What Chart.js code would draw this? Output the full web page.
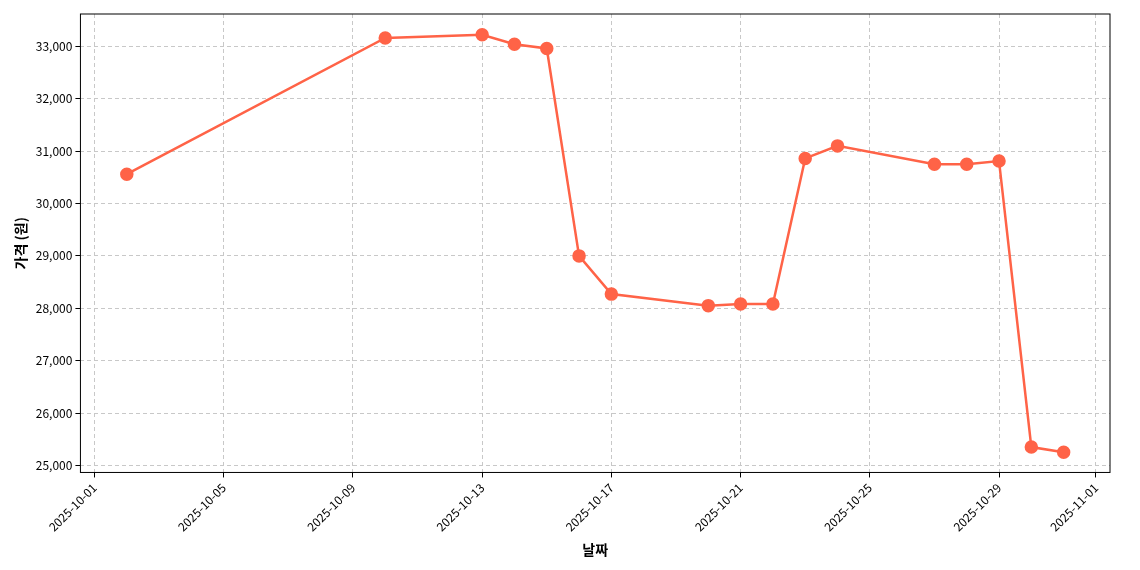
<!DOCTYPE html>
<html><head><meta charset="utf-8">
<script src="https://cdn.jsdelivr.net/npm/chart.js@4"></script>
<style>body{margin:0;background:#fff}#wrap{width:1140px;height:570px}</style>
</head><body><div id="wrap"><canvas id="c"></canvas></div>
<script>
// days since 2025-10-01
const days = [1, 9, 12, 13, 14, 15, 16, 19, 20, 21, 22, 23, 26, 27, 28, 29, 30];
const prices = [30560, 33160, 33220, 33040, 32960, 29000, 28270, 28050, 28080, 28080, 30860, 31100, 30750, 30750, 30810, 25350, 25250];
const tickDays = [0, 4, 8, 12, 16, 20, 24, 28, 31];
const tickLabels = ["2025-10-01", "2025-10-05", "2025-10-09", "2025-10-13", "2025-10-17", "2025-10-21", "2025-10-25", "2025-10-29", "2025-11-01"];

Chart.defaults.font.family = "'Noto Sans CJK KR', 'Noto Sans', sans-serif";
Chart.defaults.color = "#000";

const boxPlugin = {
  id: "box",
  afterDraw(chart) {
    const a = chart.chartArea, ctx = chart.ctx;
    ctx.save(); ctx.strokeStyle = "#000"; ctx.lineWidth = 1;
    ctx.strokeRect(a.left, a.top, a.right - a.left, a.bottom - a.top);
    ctx.restore();
  }
};

new Chart(document.getElementById("c"), {
  type: "line",
  data: {
    datasets: [{
      data: days.map((d, i) => ({ x: d, y: prices[i] })),
      borderColor: "#ff6347", backgroundColor: "#ff6347",
      borderWidth: 2.5, pointRadius: 5.5, pointHoverRadius: 5.5, tension: 0
    }]
  },
  options: {
    responsive: true, maintainAspectRatio: false, animation: false,
    layout: { padding: { top: 14, right: 30, left: 8, bottom: 8 } },
    plugins: { legend: { display: false }, tooltip: { enabled: false } },
    scales: {
      x: {
        type: "linear", min: -0.435, max: 31.435,
        afterBuildTicks(s) { s.ticks = tickDays.map(v => ({ value: v })); },
        ticks: { callback: (v) => tickLabels[tickDays.indexOf(v)], maxRotation: 45, minRotation: 45, font: { size: 12 } },
        grid: { color: "#c8c8c8", borderDash: [4, 3], tickColor: "#000", tickLength: 5 },
        border: { dash: [4, 3], display: false },
        title: { display: true, text: "날짜", font: { size: 14, weight: "bold" } }
      },
      y: {
        min: 24865, max: 33618,
        afterBuildTicks(s) { s.ticks = [25000,26000,27000,28000,29000,30000,31000,32000,33000].map(v => ({ value: v })); },
        ticks: { font: { size: 12 } },
        grid: { color: "#c8c8c8", tickColor: "#000", tickLength: 5 },
        border: { dash: [4, 3], display: false },
        title: { display: true, text: "가격 (원)", font: { size: 14, weight: "bold" } }
      }
    }
  },
  plugins: [boxPlugin]
});
</script></body></html>
